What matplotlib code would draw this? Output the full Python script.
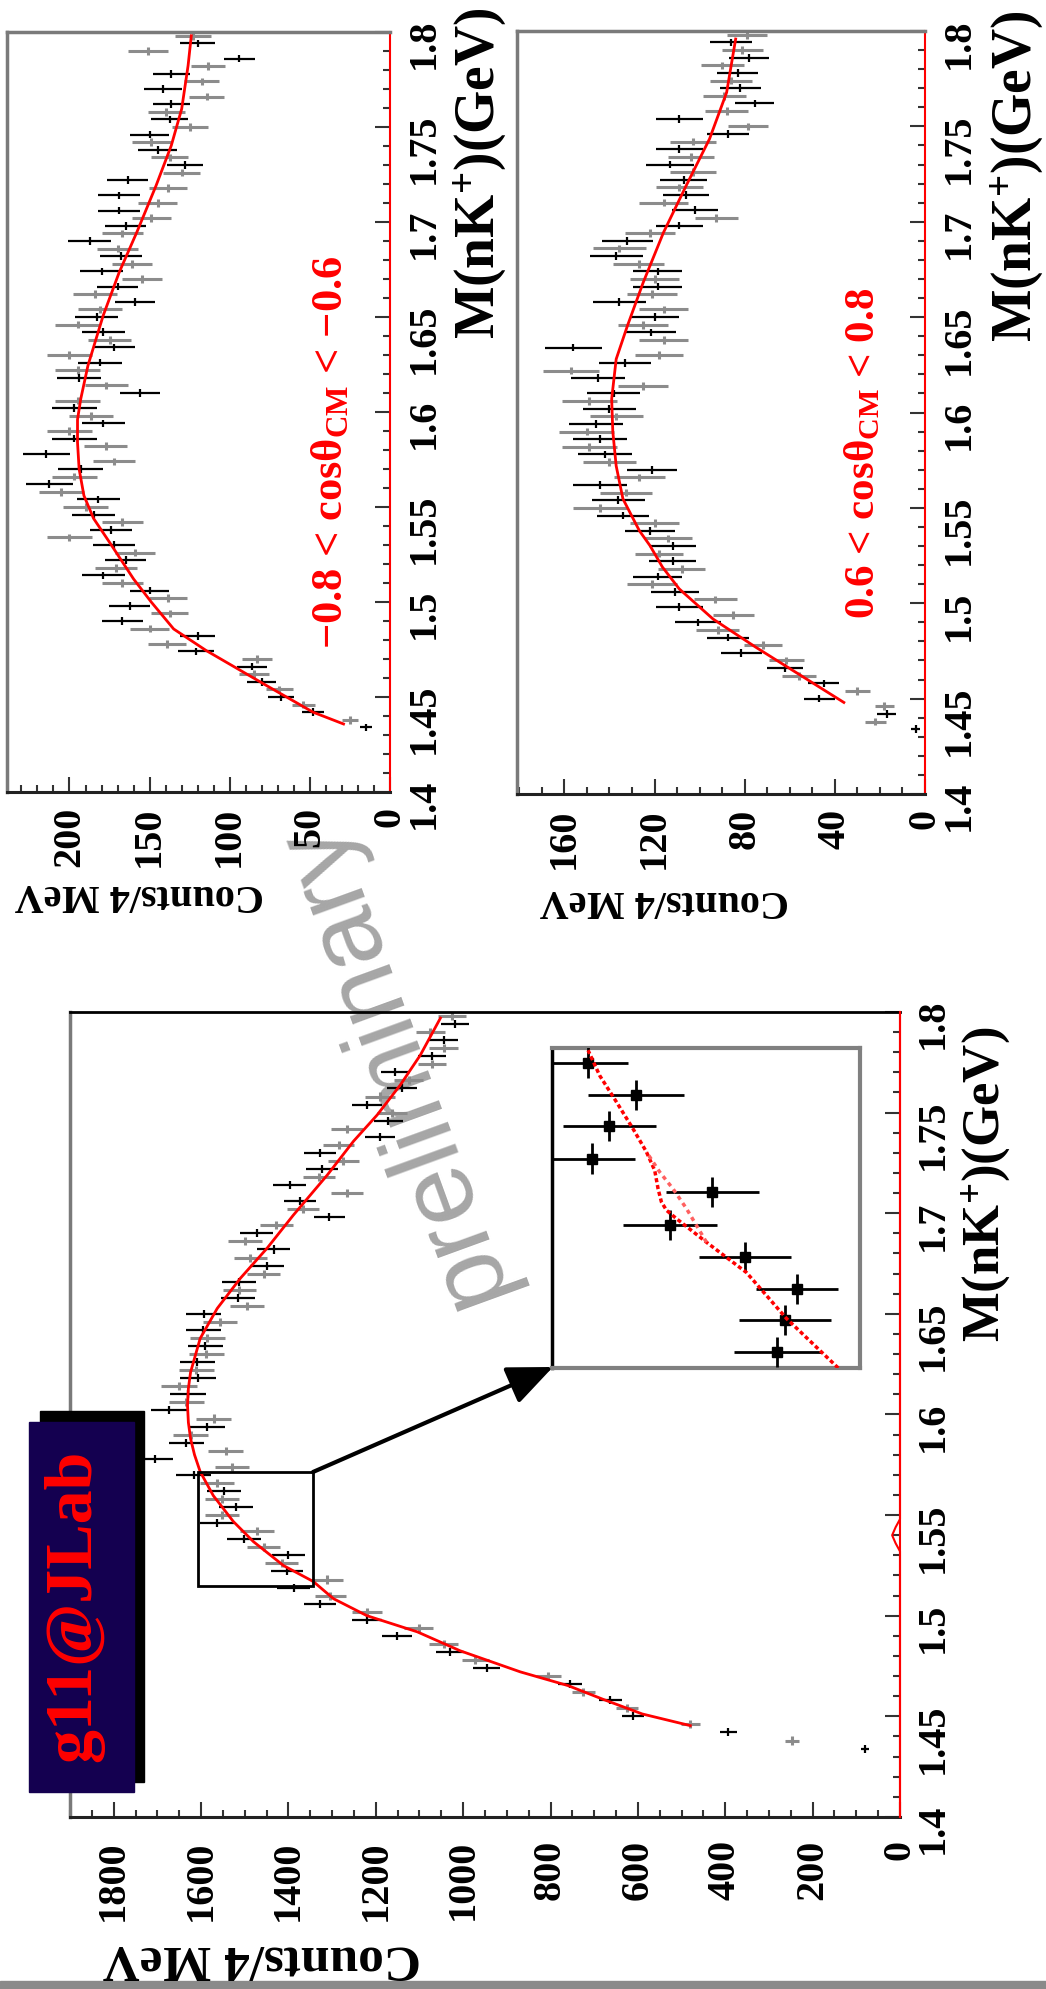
import matplotlib
matplotlib.use('Agg')
import matplotlib.pyplot as plt
import numpy as np
from matplotlib.patches import Rectangle
from matplotlib.ticker import MultipleLocator, FuncFormatter

plt.rcParams['font.family'] = ['Liberation Serif', 'DejaVu Serif']
plt.rcParams['font.weight'] = 'bold'
plt.rcParams['mathtext.fontset'] = 'custom'
plt.rcParams['mathtext.rm'] = 'Liberation Serif:bold'
plt.rcParams['mathtext.it'] = 'Liberation Serif:bold:italic'
plt.rcParams['mathtext.bf'] = 'Liberation Serif:bold'

# ---------------- data ----------------
# histogram bin centres (4 MeV bins), GeV
mass_bins = np.round(1.434 + 0.004 * np.arange(92), 3)

# main panel (all angles), counts per 4 MeV
main_counts = [80, 248, 393, 480, 611, 625, 663, 725, 755, 805,
               946, 972, 1030, 1045, 1152, 1102, 1220, 1220, 1327, 1304,
               1388, 1312, 1403, 1415, 1400, 1457, 1502, 1472, 1563, 1552,
               1521, 1552, 1548, 1563, 1617, 1529, 1706, 1544, 1634, 1624,
               1586, 1571, 1673, 1634, 1630, 1651, 1607, 1611, 1609, 1588,
               1590, 1586, 1595, 1557, 1594, 1495, 1516, 1512, 1514, 1457,
               1449, 1487, 1434, 1500, 1473, 1428, 1306, 1367, 1374, 1266,
               1397, 1331, 1323, 1274, 1327, 1285, 1190, 1266, 1171, 1163,
               1220, 1190, 1140, 1125, 1155, 1071, 1071, 1045, 1045, 1075,
               1018, 1026]
main_fit_mass = [1.4454, 1.4512, 1.4585, 1.4653, 1.4721, 1.4826, 1.492, 1.500, 1.5085,
                 1.517, 1.5249, 1.5368, 1.5468, 1.5597, 1.5716, 1.580, 1.588, 1.596,
                 1.6045, 1.613, 1.621, 1.6378, 1.6527, 1.6677, 1.6826, 1.699, 1.719,
                 1.7358, 1.7488, 1.7637, 1.7786, 1.797]
main_fit_counts = [480, 590, 680, 760, 869, 1007, 1105, 1220, 1297,
                   1343, 1411, 1480, 1526, 1572, 1602, 1615, 1624, 1629,
                   1631, 1629, 1624, 1602, 1563, 1510, 1449, 1389, 1311,
                   1251, 1197, 1144, 1098, 1052]
signal_mass = [1.400, 1.532, 1.536, 1.540, 1.544, 1.548, 1.800]
signal_counts = [0, 0, 10, 18, 10, 0, 0]

# -0.8 < cos < -0.6
tl_counts = [15, 25, 48, 54, 68, 69, 80, 85, 86, 83,
             121, 139, 120, 150, 167, 137.5, 162.5, 138.5, 150, 167,
             179, 171, 165, 159, 172, 200, 174, 167, 185, 190,
             182, 205, 212.5, 197, 193, 172, 214.5, 177.5, 197, 200,
             179, 186.5, 197, 195, 156, 177, 194, 195, 181, 200,
             172, 175, 179, 195, 183, 181, 159, 184, 170, 155,
             180, 161, 168, 170, 187.5, 167, 165, 149, 169, 145,
             169, 138.5, 163.5, 130, 128, 137.5, 145, 149, 150, 125,
             137.5, 139.5, 136.5, 114.5, 141.5, 117.5, 136.5, 113.5, 94, 151,
             120, 123]
tl_fit_mass = [1.4358, 1.442, 1.456, 1.4744, 1.4858, 1.500, 1.5121, 1.5314,
               1.544, 1.556, 1.570, 1.584, 1.596, 1.6068, 1.6244, 1.6507,
               1.6735, 1.6946, 1.7191, 1.7402, 1.7595, 1.7823, 1.798]
tl_fit_counts = [29, 48, 77, 114.6, 135, 149, 160, 175,
                 185, 191, 194, 195, 195, 193, 188.5, 179,
                 169, 158, 146, 136.5, 130, 126, 124]

# 0.6 < cos < 0.8
tr_counts = [4, 22, 17, 18, 47, 30, 45, 56, 62, 61.5,
             81.5, 72, 87.4, 92, 100.7, 85, 109, 93, 111, 121,
             118.5, 108, 112, 118, 112, 114, 122, 120, 134, 144,
             136, 132.6, 144, 126.7, 121, 140, 142, 149, 144, 150,
             146, 137, 140, 149, 138, 125, 145, 157, 133, 118,
             156, 116, 121.5, 125, 120, 116, 135.6, 121, 118.5, 120,
             118.5, 127, 137, 135.6, 132, 122, 109, 92.6, 102, 116,
             106, 109, 107, 103, 113, 104, 109, 103, 87.4, 78.5,
             109, 88, 75.5, 89, 82, 86, 83, 90, 78, 81,
             86, 79]
tr_fit_mass = [1.448, 1.4603, 1.4769, 1.4917, 1.5075, 1.519, 1.5302, 1.538, 1.5547,
               1.572, 1.590, 1.6071, 1.628, 1.6455, 1.6682, 1.6944, 1.7188, 1.7434,
               1.7678, 1.7958]
tr_fit_counts = [36, 52.6, 75, 94, 109, 116.5, 122, 126.7, 134,
                 137, 138.5, 139, 137, 132, 125, 116, 106, 95.6,
                 88, 84]

# inset (zoom of 1.515-1.572 GeV)
inset_mass = [1.5694, 1.5636, 1.5581, 1.5523, 1.5463, 1.5405, 1.5348, 1.5291, 1.5235, 1.5178]
inset_counts = [1575, 1534.5, 1557, 1571.5, 1469, 1505.4, 1441.3, 1396.6, 1407, 1413.7]
inset_cerr = [34, 41, 40, 36, 40, 40, 39, 35, 39, 37]
inset_fit_mass = [1.515, 1.5238, 1.532, 1.5374, 1.5416, 1.5431, 1.5446, 1.5469,
                  1.5502, 1.5535, 1.5576, 1.5624, 1.5671, 1.5716]
inset_fit_counts = [1361.6, 1405.7, 1439.9, 1474.1, 1499.7, 1508.3, 1512.6, 1515.4,
                    1518.3, 1525.4, 1536.8, 1551, 1565.3, 1575.2]
inset_bg_mass = [1.5374, 1.5434, 1.5469, 1.5499, 1.5535]
inset_bg_counts = [1474.1, 1491.2, 1502.6, 1514, 1525.4]

# ---------------- figure ----------------
W, H = 1046, 1990
fig = plt.figure(figsize=(W / 100, H / 100), dpi=100)


def rect(x0, y0, x1, y1):
    return [x0 / W, 1 - y1 / H, (x1 - x0) / W, (y1 - y0) / H]


# background layer for watermark
bg = fig.add_axes([0, 0, 1, 1], zorder=-5)
bg.set_xlim(0, W)
bg.set_ylim(H, 0)
bg.axis('off')
bg.text(392, 1062, 'preliminary', rotation=110, fontsize=75, color='#a6a6a6',
        family='Liberation Sans', weight='normal', ha='center', va='center',
        rotation_mode='anchor')


def panel(pos, cmax, cmaj, cminor, counts, fit_m, fit_c, tick_fs, mpad, cpad):
    ax = fig.add_axes(rect(*pos), zorder=1)
    ax.set_facecolor('none')
    ax.set_xlim(cmax, 0)
    ax.set_ylim(1.4, 1.8)
    counts = np.asarray(counts, float)
    err = np.sqrt(counts)
    ev = np.arange(len(counts)) % 2 == 0
    ax.errorbar(counts[ev], mass_bins[ev], xerr=err[ev], yerr=0.002, fmt='none',
                ecolor='black', elinewidth=1.6, capsize=0, zorder=3)
    ax.errorbar(counts[~ev], mass_bins[~ev], xerr=err[~ev], yerr=0.002, fmt='none',
                ecolor='#8c8c8c', elinewidth=2.2, capsize=0, zorder=2)
    ax.plot(fit_c, fit_m, color='red', lw=2, zorder=4, solid_joinstyle='round')
    ax.xaxis.set_major_locator(MultipleLocator(cmaj))
    ax.xaxis.set_minor_locator(MultipleLocator(cminor))
    ax.yaxis.set_major_locator(MultipleLocator(0.05))
    ax.yaxis.set_minor_locator(MultipleLocator(0.01))
    ax.yaxis.set_major_formatter(FuncFormatter(lambda v, p: f'{v:g}'))
    ax.xaxis.set_major_formatter(FuncFormatter(lambda v, p: f'{int(round(v))}'))
    ax.yaxis.tick_right()
    ax.tick_params(axis='y', which='both', direction='in', left=False, right=True,
                   labelleft=False, labelright=True, labelrotation=90, pad=mpad,
                   labelsize=tick_fs, width=1.5, color='#333333')
    ax.tick_params(axis='x', which='both', direction='in', top=False, bottom=True,
                   labelrotation=90, pad=cpad, labelsize=tick_fs, width=1.5, color='#333333')
    ax.tick_params(which='major', length=11)
    ax.tick_params(which='minor', length=5)
    for lab in ax.get_xticklabels() + ax.get_yticklabels():
        lab.set_fontweight('bold')
    ax.spines['top'].set_color('#7a7a7a')
    ax.spines['top'].set_linewidth(2.5)
    ax.spines['left'].set_color('#7a7a7a')
    ax.spines['left'].set_linewidth(2.5)
    ax.spines['bottom'].set_color('#222222')
    ax.spines['bottom'].set_linewidth(2.2)
    ax.spines['right'].set_color('red')
    ax.spines['right'].set_linewidth(1.5)
    return ax


tick_fs = 29
ax_tl = panel((7, 33, 390, 793), 239, 50, 10, tl_counts, tl_fit_mass, tl_fit_counts,
              tick_fs, 11, 10)
ax_tr = panel((517, 32, 925, 795), 181, 40, 10, tr_counts, tr_fit_mass, tr_fit_counts,
              tick_fs, 11, 10)
ax_m = panel((70, 1013, 900, 1818), 1900, 200, 50, main_counts, main_fit_mass,
             main_fit_counts, tick_fs, 10.5, 16)
ax_m.spines['top'].set_color('black')
ax_m.spines['top'].set_linewidth(2)
ax_m.plot(signal_counts, signal_mass, color='red', lw=1.5, zorder=5, clip_on=False)

# small selection rectangle in main panel
ax_m.add_patch(Rectangle((1343, 1.515), 1606 - 1343, 1.5716 - 1.515, fill=False,
                         edgecolor='black', lw=2, zorder=6))

# inset
ax_in = fig.add_axes(rect(552, 1049, 860, 1369), zorder=5)
ax_in.set_facecolor('white')
ax_in.set_xlim(1606, 1343)
ax_in.set_ylim(1.515, 1.572)
ax_in.set_xticks([])
ax_in.set_yticks([])
for s in ['top', 'right', 'bottom']:
    ax_in.spines[s].set_color('#808080')
    ax_in.spines[s].set_linewidth(3)
ax_in.spines['left'].set_color('black')
ax_in.spines['left'].set_linewidth(2.5)
ax_in.errorbar(inset_counts, inset_mass, xerr=inset_cerr, yerr=0.0027, fmt='s',
               color='black', ms=7, elinewidth=2, capsize=0, zorder=3)
ax_in.plot(inset_fit_counts, inset_fit_mass, color='red', lw=2.5,
           ls=(0, (1.2, 0.8)), zorder=4)
ax_in.plot(inset_bg_counts, inset_bg_mass, color='#ff6060', lw=2.5,
           ls=(0, (1.2, 1.2)), zorder=4)

# overlay layer (pixel coordinates)
ov = fig.add_axes([0, 0, 1, 1], zorder=10)
ov.set_xlim(0, W)
ov.set_ylim(H, 0)
ov.axis('off')
ov.patch.set_alpha(0)

ov.annotate('', xy=(553, 1368), xytext=(313, 1473),
            arrowprops=dict(arrowstyle='-|>,head_length=1.4,head_width=0.6',
                            lw=3, color='black', shrinkA=0, shrinkB=0,
                            mutation_scale=20))

# g11@JLab badge
ov.add_patch(Rectangle((40, 1412), 104, 371, color='black', zorder=2))
ov.add_patch(Rectangle((29, 1423), 105, 370, color='#140050', zorder=3))
ov.text(74, 1606, 'g11@JLab', rotation=90, color='red', fontsize=49,
        ha='center', va='center', zorder=4)

# bottom dithered band
ov.add_patch(Rectangle((0, 1982), W, 8, color='#8a8a8a', zorder=1))

# axis titles
mlabel = r'M(nK$^{+}$)(GeV)'
ov.text(480, 7, mlabel, rotation=90, fontsize=40, ha='center', va='top')
ov.text(1017, 10, mlabel, rotation=90, fontsize=40, ha='center', va='top')
ov.text(987, 1027, mlabel, rotation=90, fontsize=38, ha='center', va='top')

ov.text(15, 895, 'Counts/4 MeV', rotation=180, fontsize=29, ha='left', va='center')
ov.text(540, 900, 'Counts/4 MeV', rotation=180, fontsize=29, ha='left', va='center')
ov.text(103, 1958, 'Counts/4 MeV', rotation=180, fontsize=37, ha='left', va='center')

# angular-bin labels
ov.text(330, 452, '\u22120.8 < cos\u03b8$_{\\rm CM}$ < \u22120.6', rotation=90,
        color='red', fontsize=32, ha='center', va='center')
ov.text(863, 453, '0.6 < cos\u03b8$_{\\rm CM}$ < 0.8', rotation=90,
        color='red', fontsize=31, ha='center', va='center')

fig.savefig('out.png', dpi=100)
